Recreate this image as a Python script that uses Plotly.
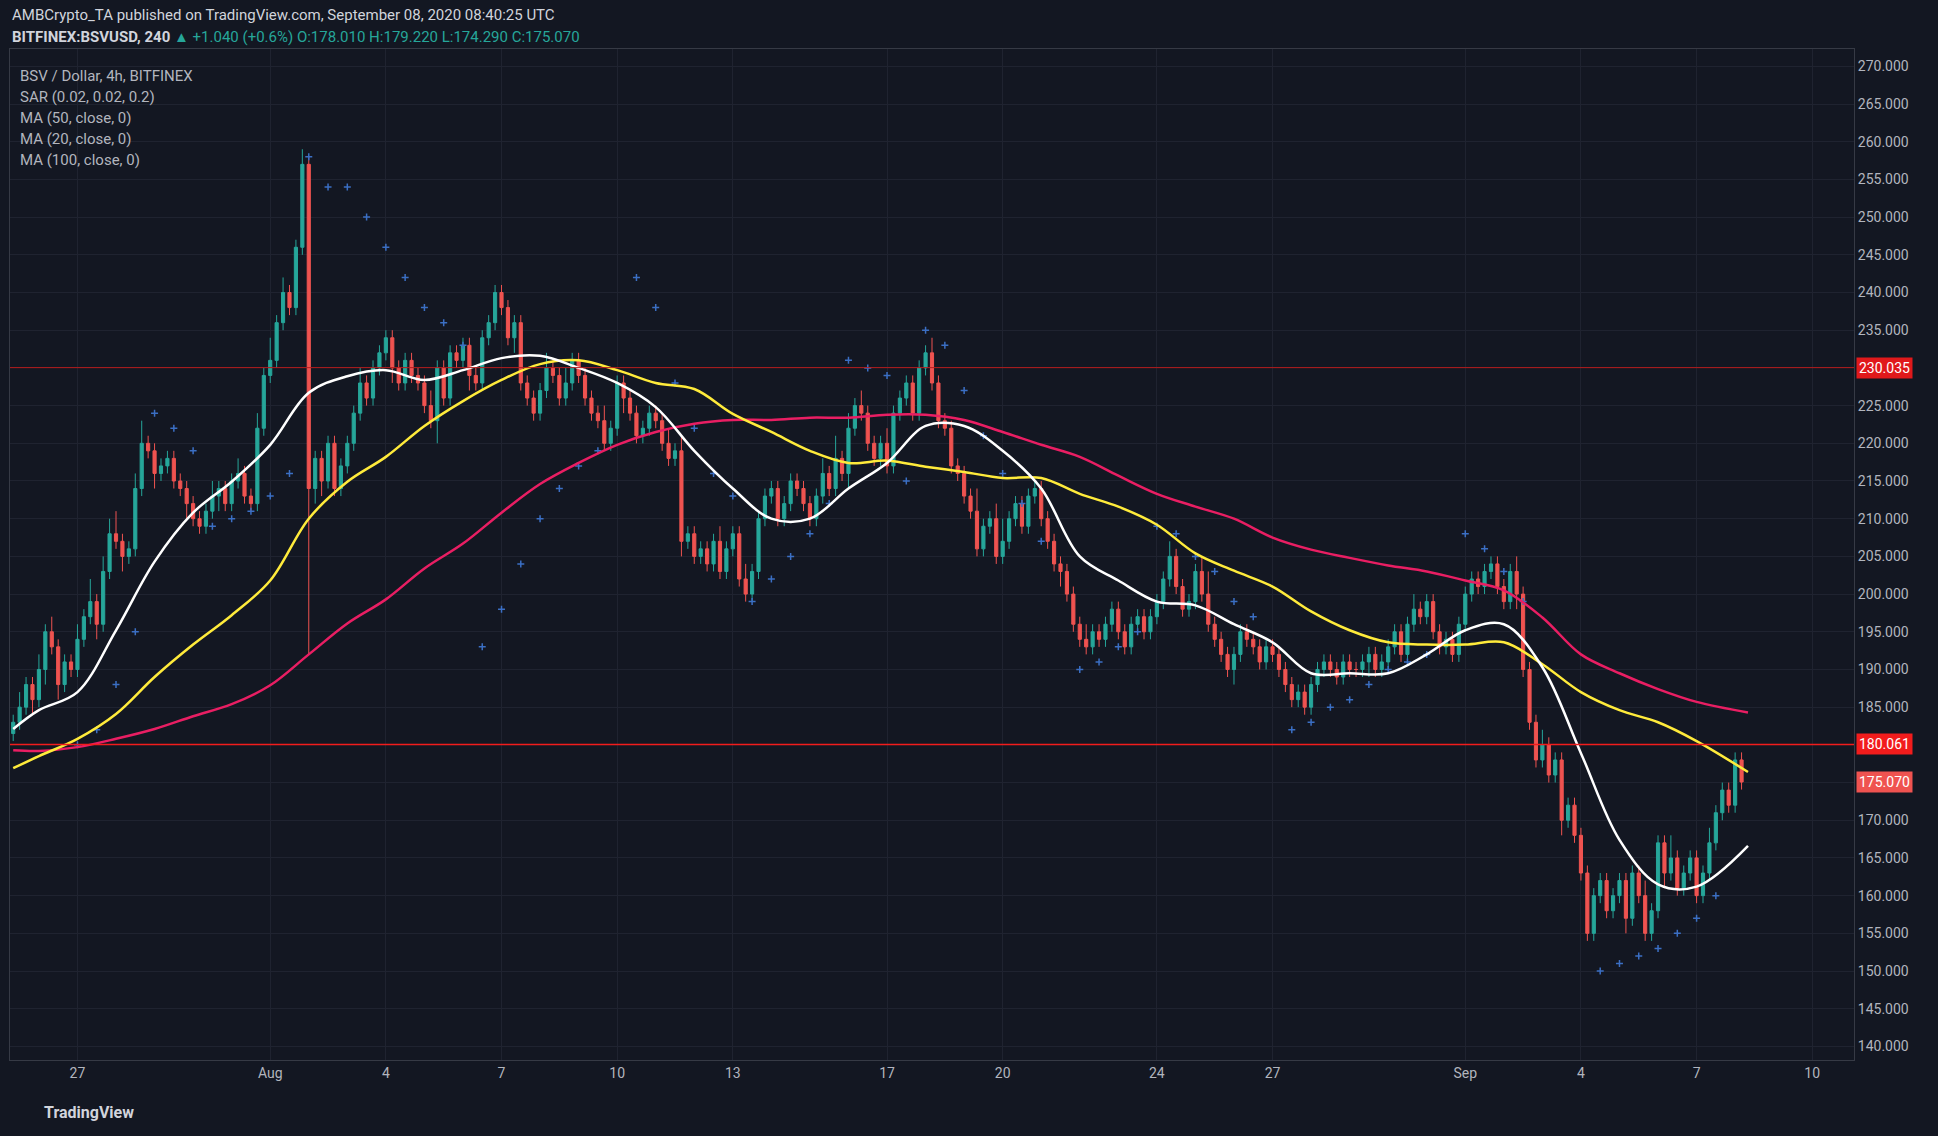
import plotly.graph_objects as go
import pandas as pd

START = "2020-07-25 08:00"
# 4h closes grouped by day (Jul 25 from 08:00 ... Sep 8 to 08:00)
CLOSE_BY_DAY = [
    [183,185,188,186],
    [190,195,193,188,191,190],
    [194,197,199,196,203,208],
    [207,205,206,214,220,219],
    [216,217,218,215,214,212],
    [210,209,211,213,214,212],
    [215,216,213,212,222,229],
    [231,236,240,238,246,257],
    [214,218,215,220,214,217],
    [220,224,228,226,230,232],
    [234,230,228,231,229,228],
    [225,223,230,226,232,231],
    [233,229,228,234,236,240],
    [238,234,236,228,226,224],
    [227,230,229,226,228,231],
    [229,226,224,223,220,222],
    [228,226,224,221,222,224],
    [223,220,218,219,207,208],
    [205,206,204,207,203,206],
    [208,202,200,203,210,213],
    [214,210,212,215,214,212],
    [210,213,216,214,218,216],
    [222,225,224,220,218,220],
    [217,224,226,228,224,230],
    [232,228,223,222,217,216],
    [213,211,206,209,210,205],
    [207,210,212,209,213,214],
    [210,207,204,203,200,196],
    [194,193,195,194,196,198],
    [195,193,196,197,195,197],
    [199,202,205,201,198,199],
    [203,200,196,194,192,190],
    [192,195,194,193,191,193],
    [192,190,188,186,187,185],
    [188,190,191,190,189,191],
    [190,190,191,192,190,191],
    [193,195,192,196,198,197],
    [199,195,193,194,192,196],
    [200,202,201,203,204,201],
    [199,203,200,190,183,178],
    [180,176,178,170,172,168],
    [163,155,160,162,158,160],
    [162,157,163,160,155,158],
    [167,163,165,161,163,165],
    [160,163,167,171,174,172],
    [178,175.07],
]
CLOSE = [c for d in CLOSE_BY_DAY for c in d]
OPEN_FIRST = 181.5
# wick extents above / below the candle body (per candle)
WICK_UP = [1,2,1,1, 2,1,2,1,1,1, 2,1,3,1,2,2, 3,1,1,2,3,1, 1,1,1,1,1,1, 1,1,1,2,1,1, 1,2,1,1,2,1,
           3,1,2,1,1,2, 1,1,1,1,1,1, 1,1,2,1,1,1, 1,1,1,1,1,1, 1,2,1,1,1,1, 1,1,1,1,1,1, 1,1,1,1,1,1,
           1,2,1,1,2,1, 1,1,1,1,2,1, 1,1,1,1,1,1, 1,1,2,1,2,1, 1,1,1,1,2,1, 1,1,2,1,1,1, 1,1,1,1,1,1,
           1,1,2,1,3,1, 2,1,2,1,1,1, 2,1,1,1,1,1, 1,2,1,1,1,1, 1,1,3,1,1,2, 3,1,1,1,1,1, 1,1,1,1,1,1,
           1,2,1,1,1,1, 1,1,1,1,1,1, 1,1,2,1,1,1, 1,2,3,1,1,1, 1,1,1,1,1,1, 1,1,1,1,1,1, 1,1,1,1,1,1,
           1,1,1,1,1,1, 1,1,1,1,2,1, 1,1,1,1,1,1, 1,1,1,1,1,1, 1,1,2,1,1,1, 2,1,1,1,1,1, 1,1,1,1,1,1,
           1,1,1,1,2,1, 1,1,3,1,1,1, 1,1,2,1,1,1, 1,1,1,1,1,1, 1,1,1,1,1,1, 1,1]
WICK_DN = [1,1,1,2, 1,2,1,2,1,1, 1,1,1,2,1,1, 1,2,1,1,1,1, 2,1,1,1,1,2, 1,1,1,1,2,1, 1,1,1,1,1,1,
           1,1,1,1,1,1, 22,2,2,1,1,1, 1,1,1,1,1,1, 1,2,1,1,1,1, 1,1,3,1,1,1, 1,2,1,1,1,1, 1,1,2,1,1,1,
           1,1,1,1,1,1, 1,1,1,1,1,1, 1,2,1,1,1,1, 1,1,1,1,2,1, 1,1,1,1,1,1, 1,1,1,1,1,1, 1,1,1,1,1,1,
           1,1,1,1,1,1, 2,1,1,1,1,1, 1,1,1,1,1,1, 1,1,1,1,1,1, 1,1,1,1,1,1, 1,1,1,1,1,1, 1,1,1,2,1,1,
           1,1,1,1,1,1, 1,1,1,1,1,1, 1,1,1,1,1,1, 1,1,1,1,1,1, 2,1,1,1,1,1, 1,1,1,1,1,1, 1,1,1,1,1,1,
           1,1,1,2,1,1, 1,1,1,1,1,1, 1,1,1,1,1,1, 1,1,1,1,1,1, 1,1,2,1,1,1, 1,1,1,2,1,1, 1,1,1,1,1,1,
           1,2,1,1,1,1, 1,2,1,1,1,1, 1,1,1,1,1,1, 1,1,1,1,1,1, 1,1,1,1,1,1, 1,1]

# moving averages read once per day (00:00), first value at Jul 25 08:00, last at Sep 8 08:00
MA_DATES = (["2020-07-25 08:00"] + [d.strftime("%Y-%m-%d %H:%M") for d in pd.date_range("2020-07-26", "2020-09-07")]
            + ["2020-09-08 08:00"])
MA20 = [182.1,184.6,187,195.2,204.3,210.8,214.9,219.8,226.7,228.9,229.7,228.4,229.7,231.3,231.6,230,228,224.8,219,214,210,210,
        214,217.4,222.3,222.3,219,214,205,201.8,199,198.5,196,193.6,189.5,189.5,189.5,192,195.2,196,190.3,178.9,167.4,161.5,161.2,166.6]
MA50 = [176.9,178.5,180.8,184.1,189,193.3,197.2,201.8,210,214.9,218.2,222.3,225.6,228.4,230.5,231,229.7,228,227.2,223.9,221.5,219,
        217.4,217.7,216.9,216.2,215.4,215.4,213.3,211.6,209.2,205.4,203.1,201,197.7,195.2,193.6,193.3,193.3,193.6,190.7,187,184.6,183,180.5,176.4]
MA100 = [179.3,179.2,179.7,180.8,182.1,183.8,185.4,187.9,192,196.1,199.3,203.4,206.7,210.8,214.6,217.4,219.8,221.5,222.6,223.1,223.1,223.4,
         223.4,223.8,223.8,223.1,221.5,219.8,218.2,215.7,213.3,211.6,210,207.5,205.9,204.8,203.8,203,201.8,200.5,196.9,192,189.5,187.4,185.7,184.3]

# parabolic SAR, read every 12h from Jul 27 00:00 (None = not read)
SAR_START = "2020-07-27 00:00"
SAR = [180,182,188,195,224,222,219,209,210,211,213,216,258,254,254,250,246,242,238,236,233,193,198,204,210,214,217,219,None,242,
       238,228,222,216,213,199,202,205,208,212,231,230,229,215,235,233,227,221,216,212,207,None,190,191,193,195,209,208,205,203,
       199,197,None,182,183,185,186,188,190,191,192,None,208,206,203,199,None,None,None,150,151,152,153,155,157,160]

UP, DN = "#26a69a", "#ef5350"
W, H = 1938, 1136
ML, MR, MT, MB = 10, 84, 49, 76

times = pd.date_range(START, periods=len(CLOSE), freq="4h")
opens = [OPEN_FIRST] + CLOSE[:-1]
highs = [max(o, c) + WICK_UP[i] for i, (o, c) in enumerate(zip(opens, CLOSE))]
lows = [min(o, c) - WICK_DN[i] for i, (o, c) in enumerate(zip(opens, CLOSE))]

fig = go.Figure()
fig.add_trace(go.Candlestick(x=times, open=opens, high=highs, low=lows, close=CLOSE,
    increasing=dict(line=dict(color=UP, width=1), fillcolor=UP),
    decreasing=dict(line=dict(color=DN, width=1), fillcolor=DN),
    whiskerwidth=0, showlegend=False, hoverinfo="skip"))
sar_t = pd.date_range(SAR_START, periods=len(SAR), freq="12h")
fig.add_trace(go.Scatter(x=sar_t, y=SAR, mode="markers", marker=dict(symbol="cross-thin", size=5, line=dict(color="#3b6fc4", width=1.5)), showlegend=False))
md = pd.to_datetime(MA_DATES)
fig.add_trace(go.Scatter(x=md, y=MA100, mode="lines", line=dict(color="#e91e63", width=2.5, shape="spline"), showlegend=False))
fig.add_trace(go.Scatter(x=md, y=MA50, mode="lines", line=dict(color="#ffeb3b", width=2.5, shape="spline"), showlegend=False))
fig.add_trace(go.Scatter(x=md, y=MA20, mode="lines", line=dict(color="#ffffff", width=2.5, shape="spline"), showlegend=False))

LEVELS = [230.035, 180.061]
fig.add_hline(y=LEVELS[0], line=dict(color="#b71c1c", width=1))
fig.add_hline(y=LEVELS[1], line=dict(color="#f21c1c", width=1.5))

TICKVALS = ["2020-07-27","2020-08-01","2020-08-04","2020-08-07","2020-08-10","2020-08-13","2020-08-17","2020-08-20",
            "2020-08-24","2020-08-27","2020-09-01","2020-09-04","2020-09-07","2020-09-10"]
TICKTEXT = ["27","Aug","4","7","10","13","17","20","24","27","Sep","4","7","10"]
YTICKS = list(range(140, 271, 5))

fig.update_layout(
    width=W, height=H, paper_bgcolor="#131722", plot_bgcolor="#131722",
    margin=dict(l=ML, r=MR, t=MT, b=MB),
    font=dict(family="Roboto, Arial", color="#b2b5be", size=14),
    xaxis=dict(range=["2020-07-25 06:00", "2020-09-11 02:00"], rangeslider=dict(visible=False),
               tickvals=TICKVALS, ticktext=TICKTEXT, showgrid=True, gridcolor="#1f2330",
               showline=True, linecolor="#363a45", mirror=True, ticks="", tickfont=dict(size=14, color="#b2b5be")),
    yaxis=dict(range=[138.2, 272.3], side="right", tickvals=YTICKS, ticktext=[f"{v:.3f}" for v in YTICKS],
               showgrid=True, gridcolor="#1f2330", showline=True, linecolor="#363a45", mirror=True,
               tickfont=dict(size=14, color="#b2b5be"), zeroline=False),
)

def px(x, y):
    return (x - ML) / (W - ML - MR), (H - MB - y) / (H - MT - MB)

ann = [
    ("AMBCrypto_TA published on TradingView.com, September 08, 2020 08:40:25 UTC", 10, 15, 15, "#d1d4dc"),
    ("<b>BITFINEX:BSVUSD, 240</b> <span style='color:#26a69a'>▲ +1.040 (+0.6%) O:178.010"
     " H:179.220 L:174.290 C:175.070</span>", 10, 37, 15, "#d1d4dc"),
    ("BSV / Dollar, 4h, BITFINEX", 18, 76, 15, "#b2b5be"),
    ("SAR (0.02, 0.02, 0.2)", 18, 97, 15, "#b2b5be"),
    ("MA (50, close, 0)", 18, 118, 15, "#b2b5be"),
    ("MA (20, close, 0)", 18, 139, 15, "#b2b5be"),
    ("MA (100, close, 0)", 18, 160, 15, "#b2b5be"),
    ("<b>TradingView</b>", 42, 1112, 16, "#d1d4dc"),
]
for text, x, y, s, c in ann:
    ax, ay = px(x, y)
    fig.add_annotation(text=text, x=ax, y=ay, xref="paper", yref="paper",
                       xanchor="left", yanchor="middle", showarrow=False, font=dict(size=s, color=c))
for val, col in [(LEVELS[0], "#e0191b"), (LEVELS[1], "#f21c1c"), (CLOSE[-1], "#ef5350")]:
    fig.add_annotation(text=f"{val:.3f}", x=1.0, y=val, xref="paper", yref="y", xanchor="left", xshift=2,
                       showarrow=False, bgcolor=col, font=dict(color="#ffffff", size=14), borderpad=2)
fig.write_html("out.html", config={"displayModeBar": False},
               post_script="document.body.style.margin='0';document.body.style.background='#131722';")
